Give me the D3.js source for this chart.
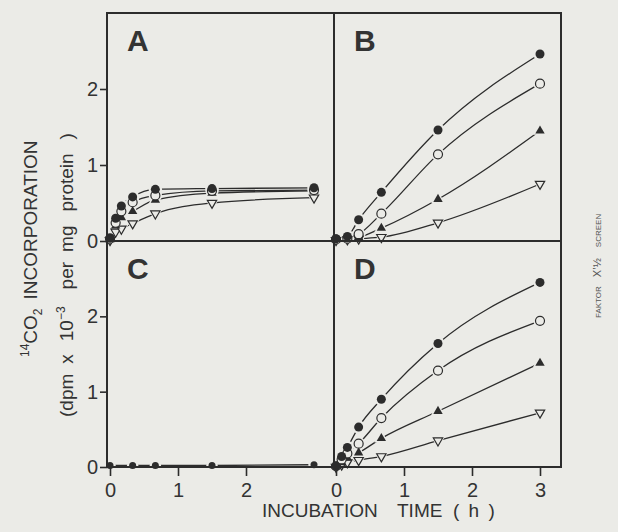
<!DOCTYPE html>
<html>
<head>
<meta charset="utf-8">
<script src="https://cdn.jsdelivr.net/npm/d3@7"></script>
<style>
    html, body { margin: 0; padding: 0; background: #ebebe7; }
    svg { display: block; font-family: "Liberation Sans", Arial, sans-serif; }
</style>
</head>
<body>
<div id="chart"></div>
<script>
// incubation times (h) per panel
const timesA = [0, 0.083, 0.167, 0.333, 0.667, 1.5, 3];
const timesB = [0, 0.167, 0.333, 0.667, 1.5, 3];
const timesC = [0, 0.333, 0.667, 1.5, 3];
const timesD = [0, 0.083, 0.167, 0.333, 0.667, 1.5, 3];

// 14CO2 incorporation (dpm x 10^-3 per mg protein)
const aFilledCircle = [0.04, 0.30, 0.46, 0.58, 0.68, 0.69, 0.70];
const aOpenCircle = [0.03, 0.24, 0.39, 0.51, 0.60, 0.66, 0.67];
const aFilledTriangle = [0.02, 0.20, 0.31, 0.39, 0.54, 0.63, 0.66];
const aOpenTriangle = [0.01, 0.12, 0.16, 0.23, 0.36, 0.50, 0.57];

const bFilledCircle = [0.03, 0.06, 0.28, 0.64, 1.46, 2.46];
const bOpenCircle = [0.02, 0.03, 0.09, 0.36, 1.14, 2.07];
const bFilledTriangle = [0.02, 0.03, 0.05, 0.17, 0.55, 1.45];
const bOpenTriangle = [0.01, 0.02, 0.03, 0.05, 0.24, 0.75];

const cFilledCircle = [0.02, 0.02, 0.02, 0.02, 0.03];

const dFilledCircle = [0.01, 0.14, 0.26, 0.53, 0.90, 1.64, 2.45];
const dOpenCircle = [0.01, 0.10, 0.18, 0.31, 0.65, 1.28, 1.94];
const dFilledTriangle = [0.01, 0.06, 0.12, 0.19, 0.38, 0.74, 1.38];
const dOpenTriangle = [0.00, 0.03, 0.06, 0.09, 0.14, 0.35, 0.72];

const panelLetters = ["A", "B", "C", "D"];
const yTicks = [0, 1, 2];
const xTicksLeft = [0, 1, 2];
const xTicksRight = [0, 1, 2, 3];

const width = 618;
const height = 532;
const bg = "#ebebe7";
const ink = "#2c2c2c";

// frame of the 2x2 grid
const frame = { left: 107, midX: 334, right: 561, top: 13, midY: 241, bottom: 467 };

const panels = [
    { letter: panelLetters[0], col: 0, row: 0, times: timesA, dot: 4.5,
      series: [["openTriangle", aOpenTriangle], ["filledTriangle", aFilledTriangle], ["openCircle", aOpenCircle], ["filledCircle", aFilledCircle]] },
    { letter: panelLetters[1], col: 1, row: 0, times: timesB, dot: 4.5,
      series: [["openTriangle", bOpenTriangle], ["filledTriangle", bFilledTriangle], ["openCircle", bOpenCircle], ["filledCircle", bFilledCircle]] },
    { letter: panelLetters[2], col: 0, row: 1, times: timesC, dot: 3.5,
      series: [["filledCircle", cFilledCircle]] },
    { letter: panelLetters[3], col: 1, row: 1, times: timesD, dot: 4.5,
      series: [["openTriangle", dOpenTriangle], ["filledTriangle", dFilledTriangle], ["openCircle", dOpenCircle], ["filledCircle", dFilledCircle]] },
];

const svg = d3
    .select("#chart")
    .append("svg")
    .attr("viewBox", [0, 0, width, height])
    .attr("width", width)
    .attr("height", height);

svg.append("rect").attr("width", width).attr("height", height).attr("fill", bg);

for (let panel of panels) {
    _drawPanel(panel);
}

//grid frame on top of the curves
svg.append("rect")
    .attr("x", frame.left)
    .attr("y", frame.top)
    .attr("width", frame.right - frame.left)
    .attr("height", frame.bottom - frame.top)
    .attr("fill", "none")
    .attr("stroke", ink)
    .attr("stroke-width", 2);
svg.append("line")
    .attr("x1", frame.midX).attr("x2", frame.midX)
    .attr("y1", frame.top).attr("y2", frame.bottom)
    .attr("stroke", ink).attr("stroke-width", 2);
svg.append("line")
    .attr("x1", frame.left).attr("x2", frame.right)
    .attr("y1", frame.midY).attr("y2", frame.midY)
    .attr("stroke", ink).attr("stroke-width", 2);

_drawLabels();

//============================ INTERNAL FUNCTIONS ============================//
function _scalesFor(panel) {
    let x0 = panel.col === 0 ? frame.left + 3 : frame.midX + 2;
    let y0 = panel.row === 0 ? frame.midY : frame.bottom;
    let y1 = panel.row === 0 ? frame.top : frame.midY;

    let x = d3.scaleLinear().domain([0, 3]).range([x0, x0 + 204]);
    let y = d3.scaleLinear().domain([0, 3]).range([y0, y1]);
    return { x, y };
}

function _drawPanel(panel) {
    let { x, y } = _scalesFor(panel);
    let g = svg.append("g").attr("class", "panel-" + panel.letter);

    let line = d3
        .line()
        .x((d) => x(d[0]))
        .y((d) => y(d[1]))
        .curve(d3.curveMonotoneX);

    let seriesData = panel.series.map(([shape, values]) => ({
        shape: shape,
        points: values.map((v, i) => [panel.times[i], v]),
    }));

    //curves first
    g.selectAll(".curve")
        .data(seriesData)
        .join("path")
        .attr("class", "curve")
        .attr("d", (d) => line(d.points))
        .attr("fill", "none")
        .attr("stroke", ink)
        .attr("stroke-width", 1.3);

    //background halos so the curves stop short of the markers
    for (let s of seriesData) {
        g.append("g")
            .selectAll("path")
            .data(s.points)
            .join("path")
            .attr("transform", (d) => `translate(${x(d[0])},${y(d[1])})`)
            .attr("d", _markerPath(s.shape, panel.dot + 2.2))
            .attr("fill", bg);
    }

    for (let s of seriesData) {
        let open = s.shape.startsWith("open");
        g.append("g")
            .selectAll("path")
            .data(s.points)
            .join("path")
            .attr("transform", (d) => `translate(${x(d[0])},${y(d[1])})`)
            .attr("d", _markerPath(s.shape, panel.dot))
            .attr("fill", open ? bg : ink)
            .attr("stroke", open ? ink : "none")
            .attr("stroke-width", 1.2);
    }

    //panel letter
    let left = panel.col === 0 ? frame.left : frame.midX;
    let top = panel.row === 0 ? frame.top : frame.midY;
    svg.append("text")
        .attr("x", left + 20)
        .attr("y", top + 38)
        .attr("font-size", 30)
        .attr("font-weight", "bold")
        .attr("fill", "#333")
        .text(panel.letter);

    //axes on the outer edges only
    if (panel.col === 0) {
        let axis = svg
            .append("g")
            .attr("transform", `translate(${frame.left},0)`)
            .call(d3.axisLeft(y).tickValues(yTicks).tickSize(7).tickPadding(2).tickFormat(d3.format("d")));
        _styleAxis(axis);
    }
    if (panel.row === 1) {
        let axis = svg
            .append("g")
            .attr("transform", `translate(0,${frame.bottom})`)
            .call(
                d3.axisBottom(x)
                    .tickValues(panel.col === 0 ? xTicksLeft : xTicksRight)
                    .tickSize(9)
                    .tickPadding(7)
                    .tickFormat(d3.format("d"))
            );
        _styleAxis(axis);
    }
}

function _markerPath(shape, r) {
    if (shape.endsWith("Circle")) {
        return d3.symbol(d3.symbolCircle, Math.PI * r * r)();
    }
    //equilateral triangle, a bit larger than the dots
    let tr = r * 1.2;
    let h = tr * 1.5;
    let half = tr * Math.sqrt(3) / 2;
    let pts = [[0, -tr], [half, h - tr], [-half, h - tr]];
    if (shape === "openTriangle") {
        pts = pts.map((p) => [p[0], -p[1]]);
    }
    return "M" + pts.map((p) => p.join(",")).join("L") + "Z";
}

function _styleAxis(axis) {
    axis.select(".domain").remove();
    axis.selectAll(".tick line").attr("stroke", ink).attr("stroke-width", 1.6);
    axis.selectAll(".tick text")
        .attr("font-size", 20)
        .attr("font-family", "Liberation Sans, Arial, sans-serif")
        .attr("fill", "#333");
}

function _drawLabels() {
    //y axis title, two rotated lines
    let t1 = svg
        .append("text")
        .attr("transform", "translate(37,357) rotate(-90)")
        .attr("font-size", 19)
        .attr("fill", "#333");
    t1.append("tspan").attr("font-size", 12).attr("dy", -8).text("14");
    t1.append("tspan").attr("dy", 8).text("CO");
    t1.append("tspan").attr("font-size", 12).attr("dy", 5).text("2");
    t1.append("tspan").attr("dy", -5).attr("dx", 9).text("INCORPORATION");

    let t2 = svg
        .append("text")
        .attr("transform", "translate(73,417) rotate(-90)")
        .attr("font-size", 19)
        .attr("fill", "#333");
    t2.append("tspan").text("(dpm");
    t2.append("tspan").attr("dx", 10).text("x");
    t2.append("tspan").attr("dx", 13).text("10");
    t2.append("tspan").attr("font-size", 12).attr("dy", -8).text("\u22123");
    t2.append("tspan").attr("dy", 8).attr("dx", 17).text("per");
    t2.append("tspan").attr("dx", 10).text("mg");
    t2.append("tspan").attr("dx", 14).text("protein");
    t2.append("tspan").attr("dx", 14).text(")");

    //x axis title
    let xt = svg.append("g").attr("font-size", 19).attr("fill", "#333");
    xt.append("text").attr("x", 262).attr("y", 517).text("INCUBATION");
    xt.append("text").attr("x", 397).attr("y", 517).text("TIME");
    xt.append("text").attr("x", 453).attr("y", 517).attr("letter-spacing", 2).text("( h )");

    //stamp at the right margin
    let st = svg
        .append("text")
        .attr("transform", "translate(601,318) rotate(-90)")
        .attr("font-size", 8)
        .attr("fill", "#555");
    st.append("tspan").text("FAKTOR");
    st.append("tspan").attr("dx", 9).attr("font-size", 11).text("X\u2019\u00bd");
    st.append("tspan").attr("dx", 11).text("SCREEN");
}
</script>
</body>
</html>
